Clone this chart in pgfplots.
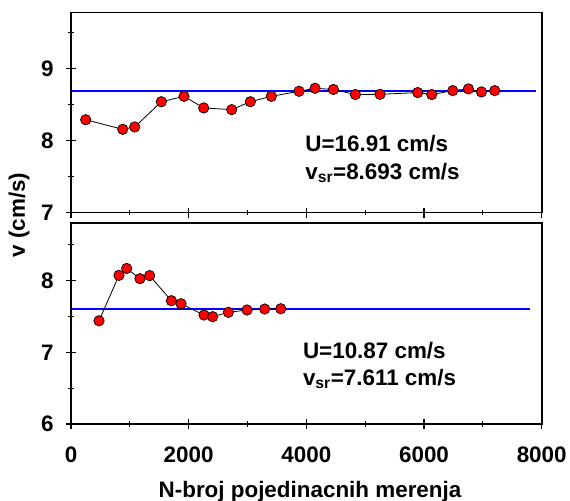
\documentclass[border=0pt]{standalone}
\usepackage{pgfplots}
\pgfplotsset{compat=1.18}
\usepackage{fontspec}
\setmainfont{Liberation Sans}
\definecolor{lineblue}{RGB}{0,0,255}
\definecolor{mred}{RGB}{255,0,0}
\pgfplotstableread{
x y
250 8.29
880 8.157
1083 8.19
1535 8.54
1921 8.615
2255 8.454
2731 8.43
3048 8.54
3405 8.615
3876 8.685
4148 8.727
4460 8.71
4834 8.64
5253 8.643
5893 8.667
6131 8.64
6488 8.694
6755 8.718
6976 8.676
7202 8.694
}\topdata
\pgfplotstableread{
x y
476 7.44
816 8.074
946 8.17
1173 8.027
1337 8.07
1706 7.72
1870 7.678
2261 7.52
2408 7.497
2675 7.558
2992 7.59
3292 7.604
3565 7.608
}\botdata
\pgfplotsset{
  myaxis/.style={
    scale only axis, width=470.7bp, anchor=south west,
    xmin=0, xmax=8000,
    axis line style={line width=1.5bp, black},
    every tick/.style={black, line width=1.5bp},
    minor tick style={line width=1bp},
    xtick={0,2000,4000,6000,8000},
    minor xtick={1000,3000,5000,7000},
    xtick pos=left, tick align=center,
    major tick length=10bp, minor tick length=5bp,
    ytick pos=left,
    /pgf/number format/assume math mode=true,
    /pgf/number format/1000 sep={},
    tick label style={font=\bfseries\fontsize{22.5}{26}\selectfont},
    yticklabel style={xshift=-9bp},
    clip=false,
  }
}
\begin{document}
\begin{tikzpicture}
\path[use as bounding box] (0,0) rectangle (570bp,501bp);
\begin{axis}[myaxis, name=top, at={(71bp,288.3bp)}, height=200.3bp,
  ymin=7, ymax=9.78, ytick={7,8,9},
  minor ytick={7.5,8.5,9.5},
  xticklabels={}]
\addplot[lineblue, line width=2bp] coordinates {(0,8.693) (7900,8.693)};
\addplot[black, line width=0.8bp, mark=*, mark size=5.2bp,
  mark options={fill=mred, draw=black, line width=0.7bp}] table[x=x,y=y] {\topdata};
\node[anchor=base west, font=\bfseries\fontsize{22.5}{26}\selectfont, inner sep=0pt] at (axis cs:3980,7.85) {U=16.91 cm/s};
\node[anchor=base west, font=\bfseries\fontsize{22.5}{26}\selectfont, inner sep=0pt] at (axis cs:3980,7.46) {v\textsubscript{sr}=8.693 cm/s};
\end{axis}
\draw[line width=1.6bp, black] (top.south west) -- (top.south east) -- (top.north east) -- (top.north west) -- cycle;
\begin{axis}[myaxis, name=bot, at={(71bp,77bp)}, height=200.7bp,
  ymin=6, ymax=8.8, ytick={6,7,8},
  minor ytick={6.5,7.5,8.5},
  xticklabel style={yshift=-14bp}]
\addplot[lineblue, line width=2bp] coordinates {(0,7.611) (7800,7.611)};
\addplot[black, line width=0.8bp, mark=*, mark size=5.2bp,
  mark options={fill=mred, draw=black, line width=0.7bp}] table[x=x,y=y] {\botdata};
\node[anchor=base west, font=\bfseries\fontsize{22.5}{26}\selectfont, inner sep=0pt] at (axis cs:3940,6.916) {U=10.87 cm/s};
\node[anchor=base west, font=\bfseries\fontsize{22.5}{26}\selectfont, inner sep=0pt] at (axis cs:3940,6.544) {v\textsubscript{sr}=7.611 cm/s};
\end{axis}
\draw[line width=1.6bp, black] (bot.south west) -- (bot.south east) -- (bot.north east) -- (bot.north west) -- cycle;
\node[anchor=base, font=\bfseries\fontsize{22.5}{26}\selectfont, inner sep=0pt] at (310bp,4bp) {N-broj pojedinacnih merenja};
\node[rotate=90, font=\bfseries\fontsize{22.5}{26}\selectfont, inner sep=0pt] at (19bp,286bp) {v (cm/s)};
\end{tikzpicture}
\end{document}
